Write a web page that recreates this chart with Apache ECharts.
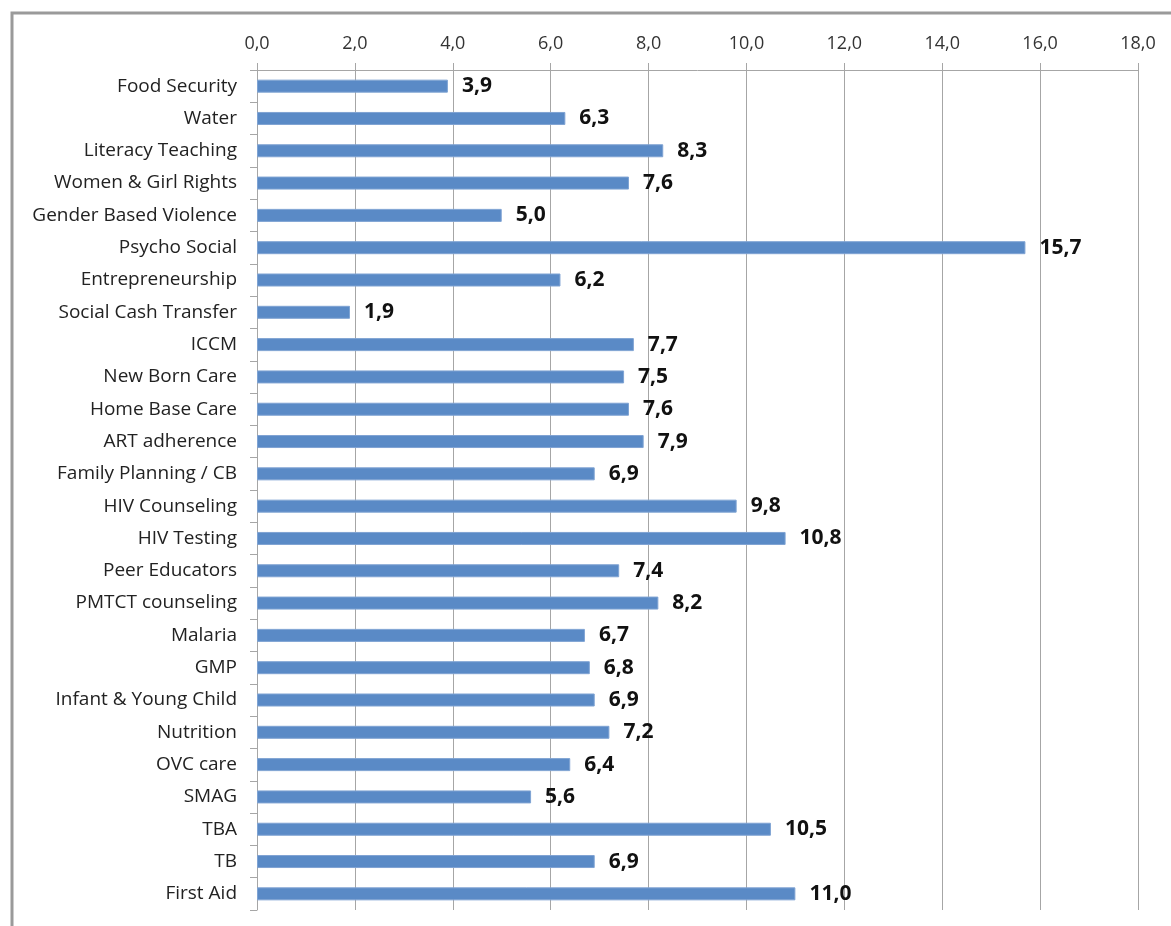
<!DOCTYPE html>
<html>
<head>
<meta charset="utf-8">
<script src="https://cdn.jsdelivr.net/npm/echarts@6/dist/echarts.min.js"></script>
<style>
  html, body { margin: 0; padding: 0; background: #fff; }
  #chart { width: 1171px; height: 926px; }
</style>
</head>
<body>
<div id="chart"></div>
<script>
// Training topics, listed top to bottom
const categories = [
  'Food Security', 'Water', 'Literacy Teaching', 'Women & Girl Rights',
  'Gender Based Violence', 'Psycho Social', 'Entrepreneurship',
  'Social Cash Transfer', 'ICCM', 'New Born Care', 'Home Base Care',
  'ART adherence', 'Family Planning / CB', 'HIV Counseling', 'HIV Testing',
  'Peer Educators', 'PMTCT counseling', 'Malaria', 'GMP',
  'Infant & Young Child', 'Nutrition', 'OVC care', 'SMAG', 'TBA', 'TB',
  'First Aid'
];

// Share per topic (%)
const values = [
  3.9, 6.3, 8.3, 7.6, 5.0, 15.7, 6.2, 1.9, 7.7, 7.5, 7.6, 7.9, 6.9,
  9.8, 10.8, 7.4, 8.2, 6.7, 6.8, 6.9, 7.2, 6.4, 5.6, 10.5, 6.9, 11.0
];

// Value axis range
const axisMin = 0;
const axisMax = 18;
const axisStep = 2;

const fmt = v => Number(v).toFixed(1).replace('.', ',');
const FONT = '"Open Sans", Lato, sans-serif';

const chart = echarts.init(document.getElementById('chart'), null, { renderer: 'canvas' });

chart.setOption({
  animation: false,
  backgroundColor: '#ffffff',
  graphic: [{
    type: 'rect',
    shape: { x: 12, y: 13, width: 1400, height: 1200 },
    style: { fill: 'none', stroke: '#9a9a9a', lineWidth: 3 },
    silent: true,
    z: -10
  }],
  grid: { left: 257, right: 33, top: 70, bottom: 16, containLabel: false },
  xAxis: {
    type: 'value',
    position: 'top',
    min: axisMin,
    max: axisMax,
    interval: axisStep,
    axisLine: { show: true, lineStyle: { color: '#a6a6a6', width: 1 } },
    axisTick: { show: true, length: 7, lineStyle: { color: '#a6a6a6' } },
    splitLine: { show: true, lineStyle: { color: '#a6a6a6', width: 1 } },
    axisLabel: {
      formatter: fmt,
      color: '#333333',
      fontFamily: FONT,
      fontSize: 18,
      margin: 17
    }
  },
  yAxis: {
    type: 'category',
    data: categories,
    inverse: true,
    axisLine: { show: true, lineStyle: { color: '#a6a6a6', width: 1 } },
    axisTick: { show: true, length: 7, alignWithLabel: false, lineStyle: { color: '#a6a6a6' } },
    splitLine: { show: false },
    axisLabel: {
      color: '#222222',
      fontFamily: FONT,
      fontSize: 19,
      margin: 20
    }
  },
  series: [{
    type: 'bar',
    data: values,
    barWidth: 13,
    itemStyle: {
      color: '#5a8ac6',
      borderColor: '#7fa3d3',
      borderWidth: 1
    },
    label: {
      show: true,
      position: 'right',
      distance: 14,
      formatter: p => fmt(p.value),
      color: '#111111',
      fontFamily: FONT,
      fontWeight: 'bold',
      fontSize: 21
    }
  }]
});
</script>
</body>
</html>
